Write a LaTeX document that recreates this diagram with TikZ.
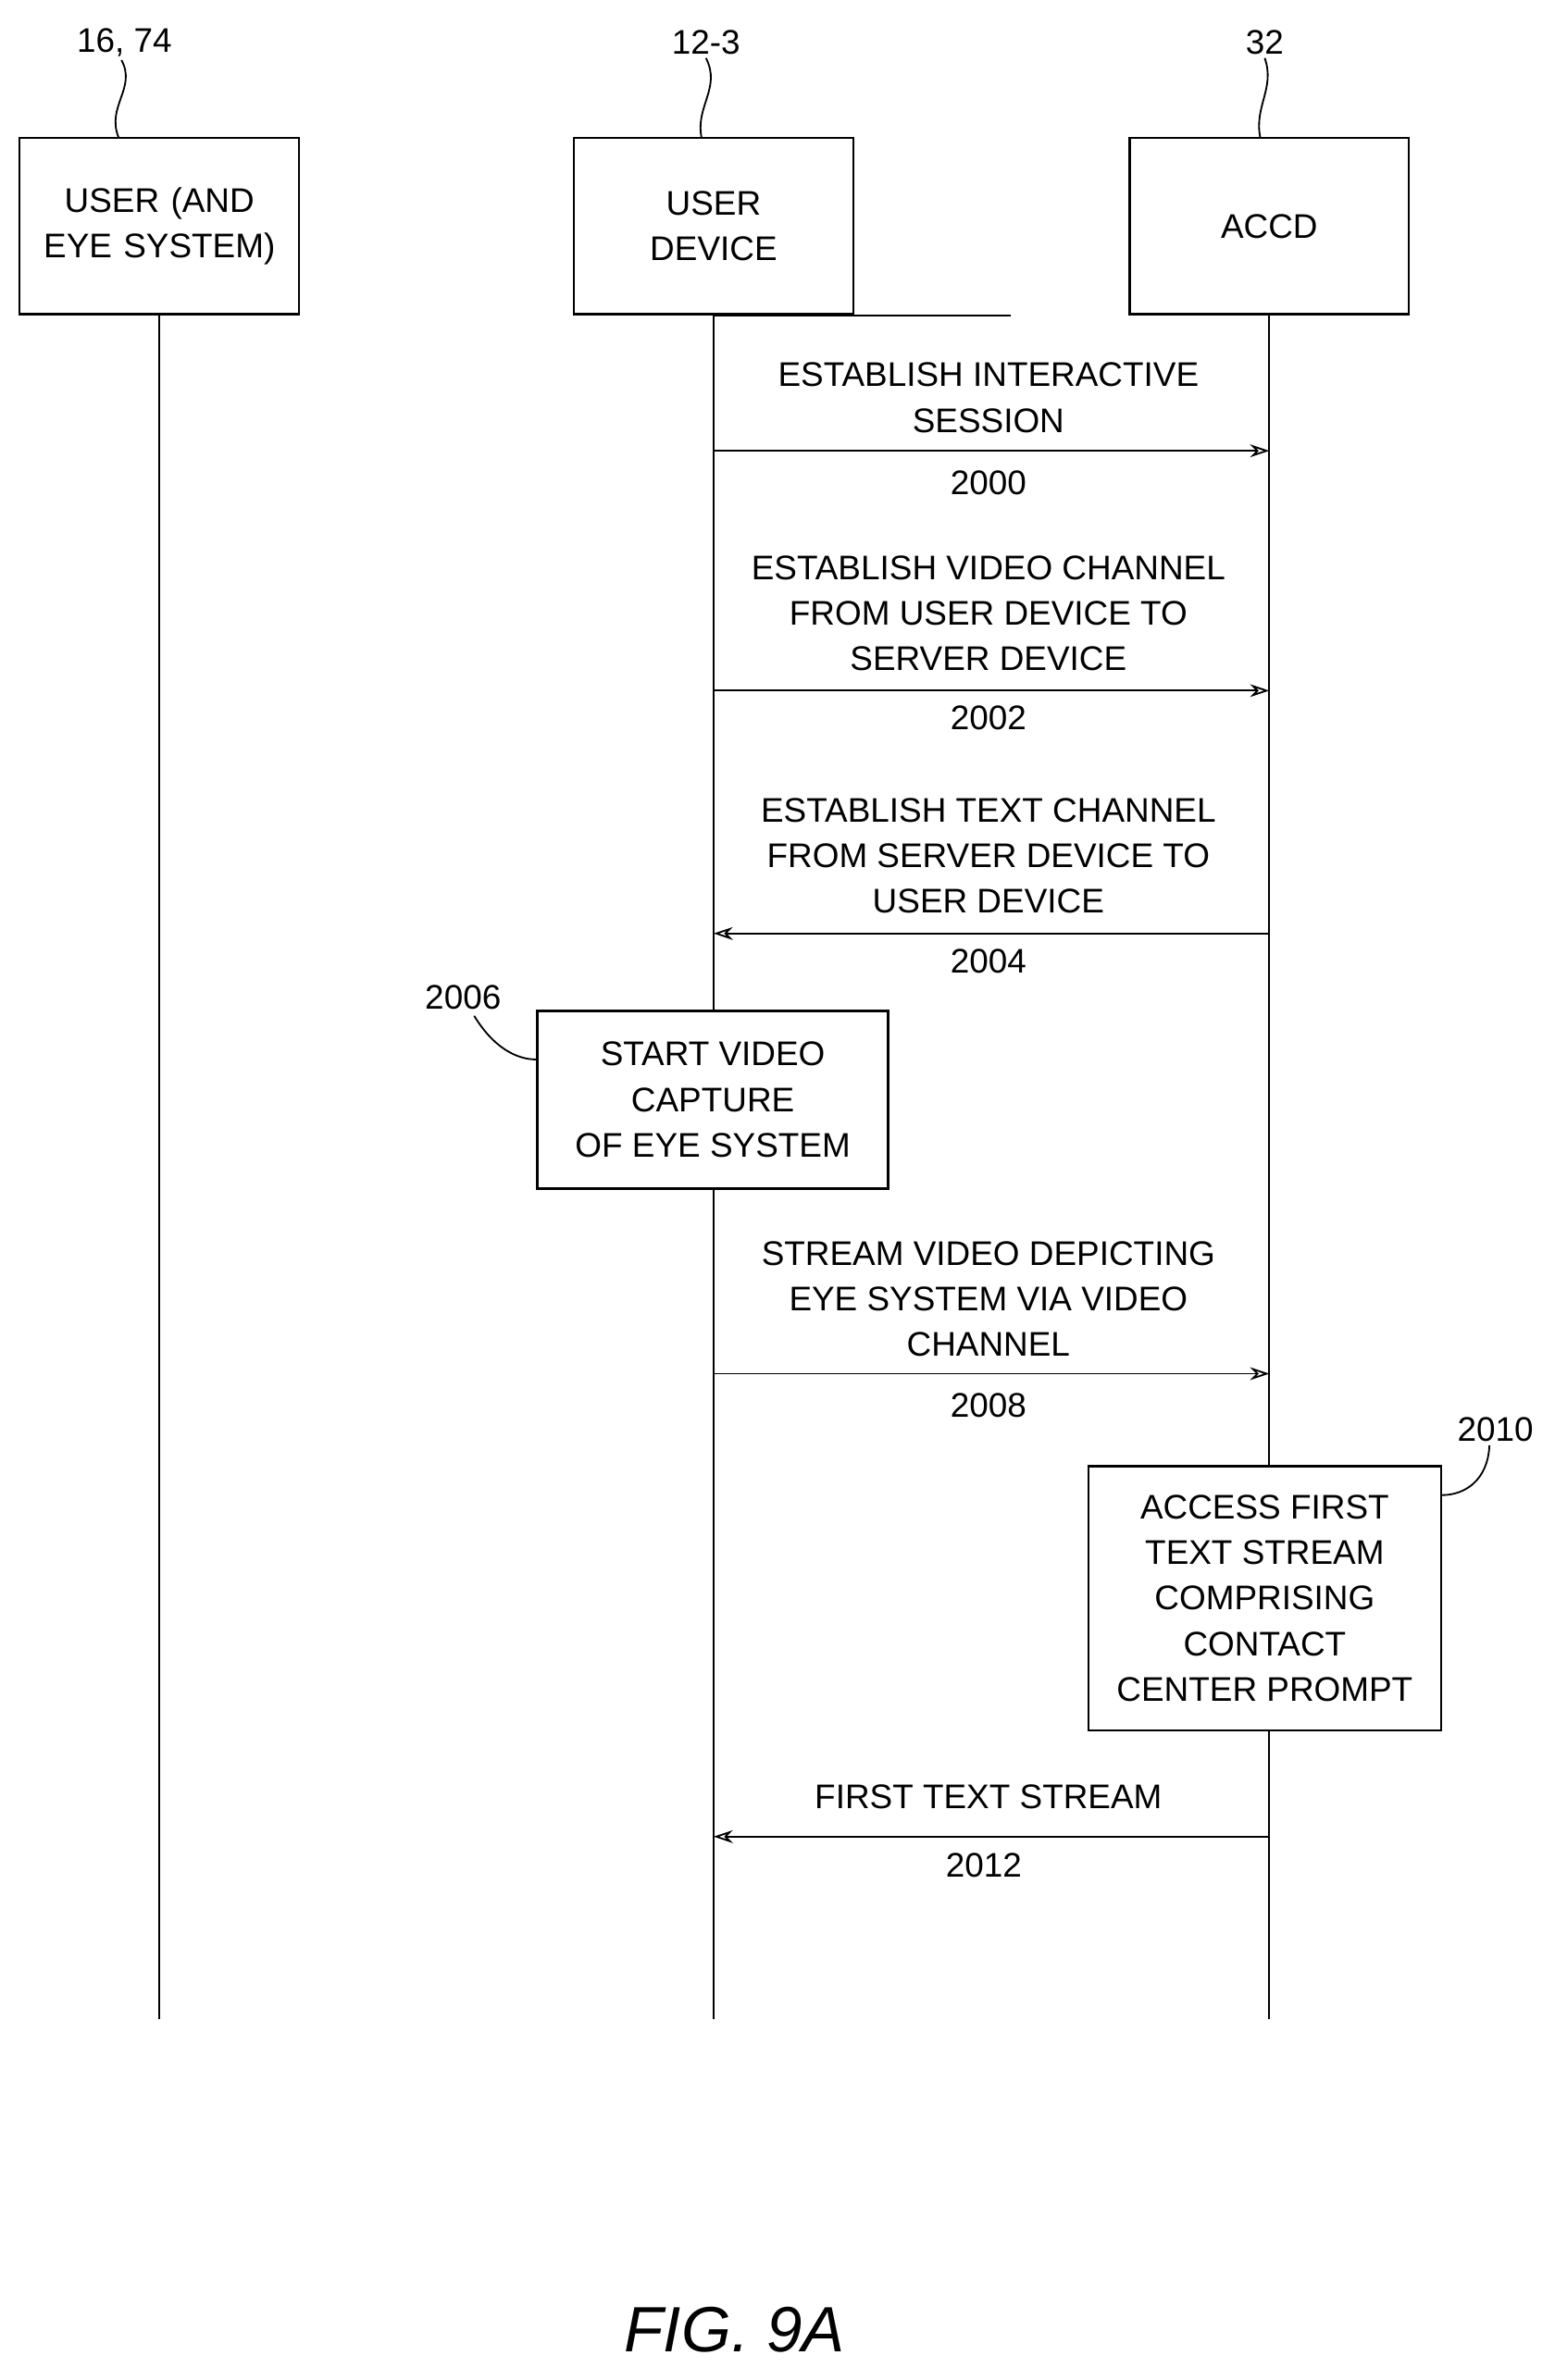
\documentclass[tikz,border=0pt]{standalone}
\usepackage{fontspec}
\setmainfont{Liberation Sans}
\usetikzlibrary{arrows.meta}
\begin{document}
\begin{tikzpicture}[x=0.025cm,y=-0.025cm,
  font=\fontsize{16}{21.3}\selectfont,
  box/.style={draw,line width=1pt,align=center,inner sep=0pt},
  life/.style={line width=1pt},
  msg/.style={line width=0.8pt,-{Stealth[open,length=9pt,width=6pt]}},
  txt/.style={align=center,inner sep=0pt},
  lead/.style={line width=0.8pt}]
\useasboundingbox (0,0) rectangle (1024,1568);
% actors
\node[box,minimum width=184\pgflinewidth,text width=4.4cm] (a1) at (105,149) [minimum width=4.6cm,minimum height=2.9cm] {USER (AND\\EYE SYSTEM)};
\node[box,minimum width=4.6cm,minimum height=2.9cm] (a2) at (470,149) {USER\\DEVICE};
\node[box,minimum width=4.6cm,minimum height=2.9cm] (a3) at (836,149) {ACCD};
\node[txt] (l1) at (82,28) {16, 74};
\node[txt] (l2) at (465,28) {12-3};
\node[txt] (l3) at (833,28) {32};
\draw[lead] (l1.south) ++(-2,2) .. controls (90,58) and (70,70) .. (a1.north -| 78,0);
\draw[lead] (l2.south) ++(0,2) .. controls (475,58) and (458,70) .. (a2.north -| 462,0);
\draw[lead] (l3.south) ++(0,2) .. controls (840,58) and (826,70) .. (a3.north -| 830,0);
% lifelines
\coordinate (e1) at (105,1330); \coordinate (e2) at (470,1330); \coordinate (e3) at (836,1330);
\draw[life] (a1.south) -- (e1);
\draw[life] (a2.south) -- (666,0 |- a2.south) ; 
\draw[life] (a2.south) -- (470,666);
\draw[life] (470,783) -- (e2);
\draw[life] (a3.south) -- (836,966);
\draw[life] (836,1140) -- (e3);
% messages
\coordinate (s1) at (470,297); \coordinate (t1) at (836,297);
\draw[msg] (s1) -- (t1);
\node[txt] at (651,262) {ESTABLISH INTERACTIVE\\SESSION};
\node[txt] at (651,318) {2000};
\coordinate (s2) at (470,455); \coordinate (t2) at (836,455);
\draw[msg] (s2) -- (t2);
\node[txt] at (651,404) {ESTABLISH VIDEO CHANNEL\\FROM USER DEVICE TO\\SERVER DEVICE};
\node[txt] at (651,473) {2002};
\coordinate (s3) at (836,615); \coordinate (t3) at (470,615);
\draw[msg] (s3) -- (t3);
\node[txt] at (651,564) {ESTABLISH TEXT CHANNEL\\FROM SERVER DEVICE TO\\USER DEVICE};
\node[txt] at (651,633) {2004};
% box 2006
\node[box,minimum width=5.775cm,minimum height=2.925cm] (b6) at (469.5,724.5) {START VIDEO\\CAPTURE\\OF EYE SYSTEM};
\node[txt] (n6) at (305,657) {2006};
\draw[lead] (n6.south east) ++(-18,4) .. controls (325,690) and (340,698) .. (b6.west |- 0,698);
\coordinate (s4) at (470,905); \coordinate (t4) at (836,905);
\draw[msg] (s4) -- (t4);
\node[txt] at (651,856) {STREAM VIDEO DEPICTING\\EYE SYSTEM VIA VIDEO\\CHANNEL};
\node[txt] at (651,926) {2008};
% box 2010
\node[box,minimum width=5.8cm,minimum height=4.35cm] (b10) at (833,1053) {ACCESS FIRST\\TEXT STREAM\\COMPRISING\\CONTACT\\CENTER PROMPT};
\node[txt] (n10) at (985,942) {2010};
\draw[lead] (n10.south) ++(-4,2) .. controls (980,975) and (965,985) .. (b10.east |- 0,985);
\coordinate (s5) at (836,1210); \coordinate (t5) at (470,1210);
\draw[msg] (s5) -- (t5);
\node[txt] at (651,1184) {FIRST TEXT STREAM};
\node[txt] at (648,1229) {2012};
\node[txt,font=\fontsize{30}{36}\selectfont\itshape] at (484,1535) {FIG. 9A};
\end{tikzpicture}
\end{document}
